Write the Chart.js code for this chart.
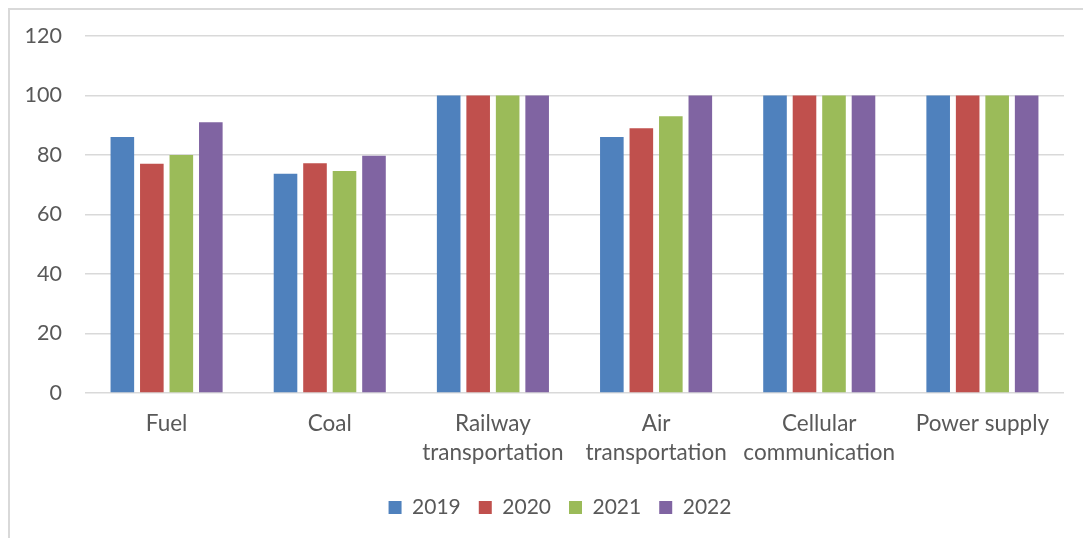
<!DOCTYPE html>
<html>
<head>
<meta charset="utf-8">
<script src="https://cdn.jsdelivr.net/npm/chart.js@4"></script>
<style>
  html, body { margin: 0; padding: 0; background: #ffffff; }
  #wrap { position: relative; width: 1083px; height: 538px; }
</style>
</head>
<body>
<div id="wrap"><canvas id="chart"></canvas></div>
<script>
// Categories (multi-line labels wrap the long names)
const categories = [
  'Fuel',
  'Coal',
  ['Railway', 'transportation'],
  ['Air', 'transportation'],
  ['Cellular', 'communication'],
  'Power supply'
];

// Values per year
const values2019 = [86, 73.7, 100, 86, 100, 100];
const values2020 = [77, 77.2, 100, 89, 100, 100];
const values2021 = [80, 74.6, 100, 93, 100, 100];
const values2022 = [91, 79.7, 100, 100, 100, 100];

const seriesNames = ['2019', '2020', '2021', '2022'];
const seriesColors = ['#4F81BD', '#C0504D', '#9BBB59', '#8064A2'];

// Y axis range
const yMin = 0;
const yMax = 120;
const yStep = 20;

const FONT = 'Lato, "Open Sans", sans-serif';
const TEXT = '#595959';

// Outer frame line along the top and left edges
const framePlugin = {
  id: 'frame',
  afterLayout(chart) {
    // centre the legend under the plot area rather than the full width
    if (chart.legend) chart.legend.left += 56;
  },
  afterDraw(chart) {
    const c = chart.ctx;
    c.save();
    c.strokeStyle = '#d9d9d9';
    c.lineWidth = 2;
    c.beginPath();
    c.moveTo(9, chart.height + 5);
    c.lineTo(9, 9);
    c.lineTo(chart.width + 5, 9);
    c.stroke();
    c.restore();
  }
};

const allValues = [values2019, values2020, values2021, values2022];

new Chart(document.getElementById('chart'), {
  type: 'bar',
  data: {
    labels: categories,
    datasets: seriesNames.map((name, i) => ({
      label: name,
      data: allValues[i],
      backgroundColor: seriesColors[i],
      borderWidth: 0,
      barPercentage: 0.8,
      categoryPercentage: 0.723
    }))
  },
  options: {
    responsive: true,
    maintainAspectRatio: false,
    animation: false,
    layout: { padding: { left: 0, right: 19, top: 34.5, bottom: 10 } },
    plugins: {
      tooltip: { enabled: false },
      legend: {
        position: 'bottom',
        labels: {
          boxWidth: 13,
          boxHeight: 13,
          padding: 18,
          color: TEXT,
          font: { family: FONT, size: 21 }
        }
      }
    },
    scales: {
      x: {
        afterFit(scale) { scale.height -= 4; },
        grid: { display: false, drawTicks: false },
        border: { display: false },
        ticks: {
          color: TEXT,
          padding: 16,
          maxRotation: 0,
          autoSkip: false,
          font: { family: FONT, size: 22.5, lineHeight: 1.29 }
        }
      },
      y: {
        min: yMin,
        max: yMax,
        afterFit(scale) { scale.width = 85; },
        grid: { color: '#d9d9d9', lineWidth: 1.5, drawTicks: false },
        border: { display: false },
        ticks: {
          stepSize: yStep,
          color: TEXT,
          padding: 23,
          font: { family: FONT, size: 21.5 }
        }
      }
    }
  },
  plugins: [framePlugin]
});
</script>
</body>
</html>
